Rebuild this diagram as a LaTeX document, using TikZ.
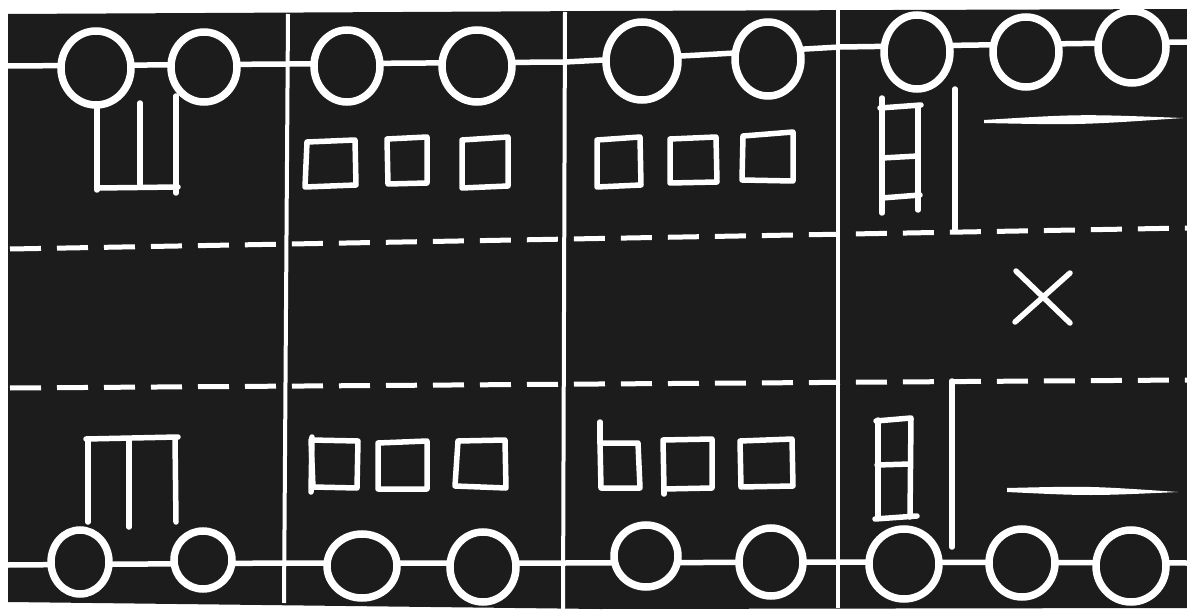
\documentclass[tikz,border=0pt]{standalone}
\usetikzlibrary{calc}
\definecolor{ink}{RGB}{28,28,28}
\tikzset{
  wl/.style={draw=white,line width=5.5pt,line cap=round,line join=round},
  divider/.style={draw=white,line width=4pt,line cap=butt},
  wheel/.style={draw=white,fill=ink,line width=7.5pt},
  lanedash/.style={draw=white,line width=5pt,dash pattern=on 31pt off 16pt},
}
\begin{document}
\begin{tikzpicture}[x=1pt,y=-1pt]
\useasboundingbox (0,0) rectangle (1187,615);
\fill[white] (0,0) rectangle (1187,615);
% black block
\fill[ink] (8,14) -- (600,11) -- (1187,9) -- (1187,608) -- (600,609) -- (8,602) -- cycle;
% dashed lane lines
\draw[lanedash] (10,249) -- (1187,228);
\draw[lanedash] (10,388) -- (1187,380);
% dividers
\draw[divider] (288,14) -- (284,603);
\draw[divider] (565,12) -- (563,609);
\draw[divider] (838,10) -- (838,608);
% top axle
\draw[wl,line cap=butt] (8,66) -- (287,64) -- (565,62) -- (700,55) -- (840,47) -- (1187,42);
% bottom axle
\draw[wl,line cap=butt] (8,565) -- (287,563) -- (565,563) -- (840,562) -- (1187,563);
% top wheels
\foreach \x/\y/\a/\b in {96/68/35/37, 204/67/33/35, 347/66/33/36, 477/66/35/36, 642/61/36/39, 768/59/33/37, 917/52/33/37, 1026/52/33/35, 1132/47/34/36}
  \draw[wheel] (\x,\y) ellipse [x radius=\a pt, y radius=\b pt];
% bottom wheels
\foreach \x/\y/\a/\b in {80/562/29/32, 203/560/29/29, 362/566/35/32, 483/567/33/35, 646/556/32/31, 771/562/32/34, 904/564/35/35, 1022/563/33/34, 1131/566/35/36}
  \draw[wheel] (\x,\y) ellipse [x radius=\a pt, y radius=\b pt];
% ---- top row bodies ----
% section 1 (Sh shape)
\draw[wl] (97,105) -- (97,190);
\draw[wl] (140,103) -- (140,184);
\draw[wl] (176,96) -- (176,193);
\draw[wl] (97,188) -- (178,187);
% section 2 boxes
\draw[wl] (307,142) -- (355,140) -- (356,185) -- (305,187) -- cycle;
\draw[wl] (387,139) -- (427,137) -- (427,183) -- (388,184) -- cycle;
\draw[wl] (462,140) -- (508,137) -- (508,186) -- (462,188) -- cycle;
% section 3 boxes
\draw[wl] (597,140) -- (640,137) -- (641,185) -- (597,187) -- cycle;
\draw[wl] (670,139) -- (716,137) -- (717,182) -- (670,183) -- cycle;
\draw[wl] (743,136) -- (793,132) -- (793,181) -- (742,180) -- cycle;
% section 4 ladder and wall
\draw[wl] (882,98) -- (882,213);
\draw[wl] (918,106) -- (918,210);
\draw[wl] (880,108) -- (921,105);
\draw[wl] (882,158) -- (918,156);
\draw[wl] (882,198) -- (920,195);
\draw[wl] (955,89) -- (955,230);
\fill[white] (984,120) .. controls (1080,114) .. (1183,118) .. controls (1080,125) .. (984,123) -- cycle;
% X mark
\draw[wl] (1016,271) -- (1070,323);
\draw[wl] (1070,273) -- (1015,322);
% ---- bottom row bodies ----
% section 1 (Pi shape)
\draw[wl] (86,439) -- (178,437);
\draw[wl] (88,439) -- (88,522);
\draw[wl] (129,439) -- (129,527);
\draw[wl] (175,438) -- (176,522);
% section 2 boxes
\draw[wl] (311,440) -- (358,441) -- (357,488) -- (313,487) -- cycle;
\draw[wl] (312,437) -- (311,492);
\draw[wl] (378,443) -- (427,441) -- (427,489) -- (378,489) -- cycle;
\draw[wl] (458,441) -- (505,440) -- (506,488) -- (455,486) -- cycle;
% section 3 boxes
\draw[wl] (600,443) -- (638,443) -- (640,488) -- (601,488) -- cycle;
\draw[wl] (600,422) -- (600,443);
\draw[wl] (663,440) -- (712,439) -- (712,488) -- (664,489) -- cycle;
\draw[wl] (664,488) -- (664,494);
\draw[wl] (740,441) -- (792,439) -- (793,486) -- (741,487) -- cycle;
% section 4 ladder and wall
\draw[wl] (878,420) -- (878,518);
\draw[wl] (911,419) -- (910,517);
\draw[wl] (876,421) -- (911,418);
\draw[wl] (877,465) -- (910,464);
\draw[wl] (875,519) -- (917,516);
\draw[wl] (952,381) -- (952,547);
\fill[white] (1007,488) .. controls (1090,486) .. (1178,492) .. controls (1090,496) .. (1007,492) -- cycle;
\end{tikzpicture}
\end{document}
